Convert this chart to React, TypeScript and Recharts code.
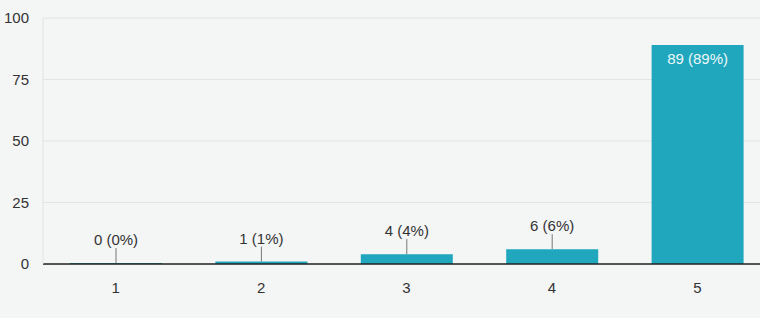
import { BarChart, Bar, XAxis, YAxis, CartesianGrid, LabelList } from "recharts";

const ratings = ["1", "2", "3", "4", "5"];
const counts = [0, 1, 4, 6, 89];
const shares = ["0%", "1%", "4%", "6%", "89%"];
const yTicks = [0, 25, 50, 75, 100];

const data = ratings.map((r, i) => ({ rating: r, count: counts[i], share: shares[i] }));

const TEAL = "#20a7bd";

function BarLabel(props: any) {
  const { x, y, width, index } = props;
  const cx = x + width / 2;
  const text = `${counts[index]} (${shares[index]})`;
  if (counts[index] > 50) {
    return (
      <text x={cx} y={y + 19} textAnchor="middle" fill="#eef8fa" fontSize={15}>
        {text}
      </text>
    );
  }
  return (
    <g>
      <line x1={cx} x2={cx} y1={y - 15} y2={y} stroke="#777" strokeWidth={1} />
      <text x={cx} y={y - 18} textAnchor="middle" fill="#333" fontSize={15}>
        {text}
      </text>
    </g>
  );
}

export default function App() {
  return (
    <div
      style={{
        position: "absolute",
        left: 0,
        top: 0,
        width: 760,
        height: 318,
        background: "#f4f5f5",
        fontFamily: "Arial, 'Liberation Sans', sans-serif",
      }}
    >
      <BarChart
        width={760}
        height={318}
        data={data}
        margin={{ top: 18, right: -10, bottom: 18, left: 0 }}
        barSize={92}
      >
        <CartesianGrid vertical={false} stroke="#e3e4e4" />
        <XAxis
          dataKey="rating"
          height={36}
          tickLine={false}
          axisLine={{ stroke: "#222", strokeWidth: 1.5 }}
          tick={{ fill: "#333", fontSize: 15 }}
          tickMargin={12}
        />
        <YAxis
          width={43}
          domain={[0, 100]}
          ticks={yTicks}
          tickLine={false}
          axisLine={{ stroke: "#e3e4e4" }}
          tick={{ fill: "#333", fontSize: 15 }}
          tickMargin={8}
        />
        <Bar dataKey="count" fill={TEAL} isAnimationActive={false} minPointSize={1}>
          <LabelList dataKey="count" content={BarLabel} />
        </Bar>
      </BarChart>
    </div>
  );
}
